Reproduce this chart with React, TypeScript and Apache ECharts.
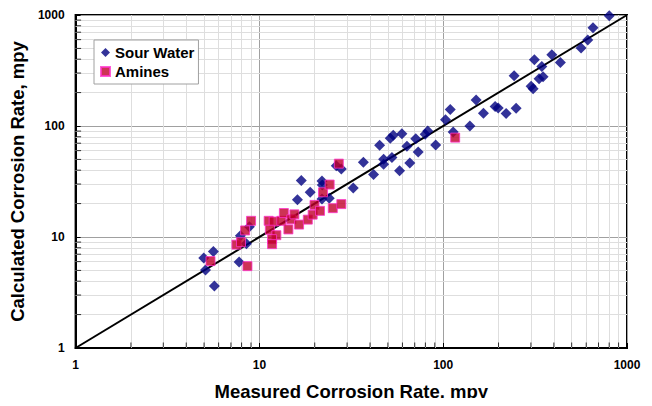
import React, { useEffect, useRef } from "react";
import * as echarts from "echarts";

const sourWaterMeasured = [
  4.98, 5.62, 5.09, 5.69, 7.76, 7.88, 8.5, 8.82, 16.1, 16.9, 18.9, 21.9, 22.0, 21.9, 24.0,
  26.2, 27.9, 32.4, 36.8, 41.8, 45.1, 47.4, 47.4, 51.5, 53.5, 59.6, 52.6, 57.9, 63.5, 65.8,
  70.9, 73.1, 79.8, 82.4, 91.0, 102.9, 109.2, 113.3, 139.7, 151.1, 165.6, 191.7, 199.1,
  220.0, 249.3, 243.2, 300.8, 308.4, 313.4, 332.4, 349.5, 343.9, 389.8, 434.1, 562.3,
  611.5, 653.4, 800.5,
];
const sourWaterCalculated = [
  6.46, 7.39, 5.04, 3.61, 5.95, 10.27, 8.71, 12.37, 21.7, 32.3, 25.3, 31.9, 29.4, 22.0, 22.3,
  43.9, 40.9, 27.6, 47.2, 36.5, 67.0, 50.2, 45.3, 77.5, 82.4, 85.0, 52.0, 39.5, 65.7, 46.3,
  76.7, 58.4, 84.1, 90.0, 67.5, 113.9, 140.8, 88.2, 100.2, 171.3, 130.5, 149.8, 145.2,
  129.7, 144.6, 283.8, 227.6, 217.1, 394.7, 266.8, 278.0, 343.9, 437.5, 373.4, 505.4,
  596.2, 768.2, 983.6,
];
const aminesMeasured = [
  5.42, 7.5, 7.94, 8.36, 9.01, 8.61, 11.23, 11.96, 11.4, 12.37, 11.72, 11.72, 13.17, 13.59,
  14.38, 14.92, 15.5, 16.44, 18.34, 19.49, 19.95, 21.37, 22.19, 24.11, 25.08, 27.91, 27.05,
  116.2,
];
const aminesCalculated = [
  6.07, 8.53, 8.98, 11.46, 13.99, 5.46, 13.99, 13.79, 11.63, 10.38, 9.56, 8.62, 13.99, 16.44,
  11.7, 14.43, 16.0, 12.94, 14.34, 15.9, 19.46, 17.2, 25.28, 29.69, 18.18, 19.79, 45.79,
  78.57,
];
const tickLabels = ["1", "10", "100", "1000"];
const majorValues = [1, 10, 100, 1000];
const minorValues = [2, 3, 4, 5, 6, 7, 8, 9, 20, 30, 40, 50, 60, 70, 80, 90, 200, 300, 400, 500, 600, 700, 800, 900];
const parityLine = [
  [1, 1],
  [1000, 1000],
];

const FONT = "Liberation Sans, Arial, sans-serif";

export default function App() {
  const ref = useRef<HTMLDivElement>(null);
  useEffect(() => {
    if (!ref.current) return;
    const chart = echarts.init(ref.current, undefined, { renderer: "svg" });
    const labelFmt = (v: number) => {
      const i = majorValues.indexOf(Math.round(v));
      return i >= 0 ? tickLabels[i] : "";
    };
    const axisCommon = {
      type: "log" as const,
      logBase: 10,
      min: 1,
      max: 1000,
      axisLine: { show: true, lineStyle: { color: "#000", width: 2 } },
      axisTick: { show: true, inside: true, length: 5, lineStyle: { color: "#000", width: 1 } },
      axisLabel: {
        color: "#000",
        fontSize: 12,
        fontWeight: "bold" as const,
        fontFamily: FONT,
        formatter: labelFmt,
        margin: 11,
      },
      splitLine: { show: true, lineStyle: { color: "#a0a0a0", width: 1 } },
      nameTextStyle: { color: "#000", fontSize: 18.5, fontWeight: "bold" as const, fontFamily: FONT },
    };
    chart.setOption({
      animation: false,
      backgroundColor: "#fff",
      grid: {
        left: 75,
        right: 25,
        top: 15,
        bottom: 56,
        show: true,
        borderColor: "#000",
        borderWidth: 2,
        backgroundColor: "transparent",
      },
      xAxis: {
        ...axisCommon,
        name: "Measured Corrosion Rate, mpy",
        nameLocation: "middle",
        nameGap: 34,
      },
      yAxis: {
        ...axisCommon,
        name: "Calculated Corrosion Rate, mpy",
        nameLocation: "middle",
        nameGap: 37,
      },
      legend: {
        z: 20,
        left: 94,
        top: 40,
        orient: "vertical",
        backgroundColor: "#fff",
        borderColor: "#a0a0a0",
        borderWidth: 1,
        borderRadius: 0,
        padding: [5, 4, 5, 6],
        itemGap: 4,
        itemWidth: 9,
        itemHeight: 9,
        textStyle: { color: "#000", fontSize: 15, fontWeight: "bold", fontFamily: FONT },
        data: [
          { name: "Sour Water", icon: "diamond" },
          { name: "Amines", icon: "rect" },
        ],
      },
      series: [
        {
          name: "minorGrid",
          type: "line",
          data: [],
          silent: true,
          z: 1,
          markLine: {
            z: 1,
            silent: true,
            symbol: ["none", "none"],
            label: { show: false },
            lineStyle: { color: "#dedede", width: 1, type: "solid" },
            emphasis: { disabled: true },
            data: [
              ...minorValues.map((v) => ({ xAxis: v })),
              ...minorValues.map((v) => ({ yAxis: v })),
            ],
          },
        },
        {
          name: "xMinorTicks",
          type: "scatter",
          silent: true,
          z: 3,
          symbol: "rect",
          symbolSize: [1, 5],
          symbolOffset: [0, -3],
          itemStyle: { color: "#000" },
          data: minorValues.map((v) => [v, 1]),
        },
        {
          name: "yMinorTicks",
          type: "scatter",
          silent: true,
          z: 3,
          symbol: "rect",
          symbolSize: [5, 1],
          symbolOffset: [3, 0],
          itemStyle: { color: "#000" },
          data: minorValues.map((v) => [1, v]),
        },
        {
          name: "parity",
          type: "line",
          data: parityLine,
          symbol: "none",
          silent: true,
          z: 4,
          lineStyle: { color: "#000", width: 2 },
        },
        {
          name: "Sour Water",
          type: "scatter",
          symbol: "diamond",
          symbolSize: 11,
          z: 5,
          itemStyle: { color: "#000080" },
          data: sourWaterMeasured.map((x, i) => [x, sourWaterCalculated[i]]),
        },
        {
          name: "Amines",
          type: "scatter",
          symbol: "rect",
          symbolSize: 9,
          z: 6,
          itemStyle: { color: "#c0002a", borderColor: "#ff33cc", borderWidth: 1 },
          data: aminesMeasured.map((x, i) => [x, aminesCalculated[i]]),
        },
      ],
    });
    return () => chart.dispose();
  }, []);
  return <div ref={ref} style={{ width: 652, height: 406, margin: -8 }} />;
}
